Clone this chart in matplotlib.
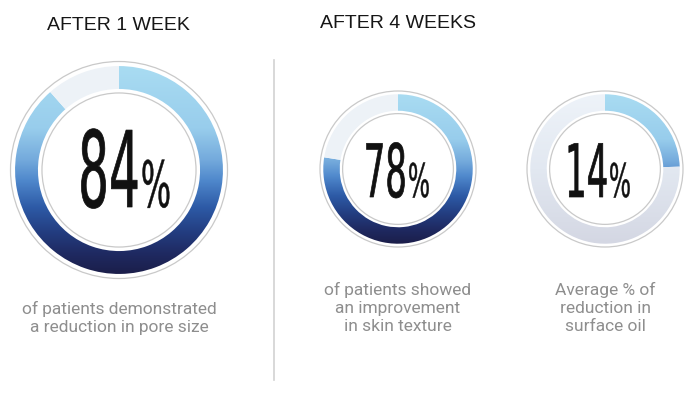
import matplotlib
matplotlib.use('Agg')
import matplotlib.pyplot as plt
import numpy as np
from matplotlib.patches import Wedge, Circle
from matplotlib.colors import LinearSegmentedColormap
from matplotlib.patheffects import AbstractPathEffect
from matplotlib.transforms import Affine2D

# chart content
headers = ['AFTER 1 WEEK', 'AFTER 4 WEEKS']
pct_labels = [84, 78, 14]
# share of each ring that is coloured, as drawn in the picture
arc_fill = [0.885, 0.775, 0.245]
captions = ['of patients demonstrated\na reduction in pore size',
            'of patients showed\nan improvement\nin skin texture',
            'Average % of\nreduction in\nsurface oil']

# layout, in pixels with y pointing down
W, H = 700, 397
centers = [(119, 170), (398, 169), (605, 169)]
radius = [108.5, 78, 78]
num_split = [141, 408, 609]       # x where the number ends and the % begins
num_base = [207, 197, 197]        # baseline of the big numbers
num_size = [76, 53, 53]
pct_size = [46, 33.5, 33.5]
caption_y = [318, 308, 308]
header_x = [47, 320]
header_y = [25, 23.5]

blue_cmap = LinearSegmentedColormap.from_list('ring_blue', [
    (0.0, '#a9dcf2'), (0.3, '#98cdec'), (0.45, '#74aadc'), (0.55, '#4f88cc'),
    (0.68, '#2d5aa6'), (0.8, '#233d80'), (0.9, '#1f2a62'), (1.0, '#1b1e4a')])
grey_cmap = LinearSegmentedColormap.from_list('ring_grey', [
    (0.0, '#eef3f9'), (0.5, '#e2e8f1'), (1.0, '#d4d7e3')])
REST = '#edf2f7'
LINE = '#c9c9c9'


class Squeeze(AbstractPathEffect):
    """draw text narrower (no condensed font here), thin outline to thicken it,
    dx shifts the glyphs sideways in pixels"""
    def __init__(self, sx, anchor='center', lw=0.0, dx=0.0):
        super().__init__()
        self.sx = sx
        self.anchor = anchor
        self.lw = lw
        self.dx = dx

    def draw_path(self, renderer, gc, tpath, affine, rgbFace=None):
        ext = tpath.get_extents()
        if self.anchor == 'left':
            x0 = ext.x0
        elif self.anchor == 'right':
            x0 = ext.x1
        else:
            x0 = (ext.x0 + ext.x1) / 2
        t = Affine2D().translate(-x0, 0).scale(self.sx, 1).translate(x0, 0)
        gc0 = renderer.new_gc()
        gc0.copy_properties(gc)
        if self.lw > 0 and rgbFace is not None:
            gc0.set_linewidth(self.lw)
            gc0.set_foreground(rgbFace)
        renderer.draw_path(gc0, tpath, t + affine + Affine2D().translate(self.dx, 0),
                           rgbFace)
        gc0.restore()


def gradient_arc(ax, cx, cy, r_out, r_in, t1, t2, cmap):
    grad = np.linspace(0, 1, 256).reshape(-1, 1)
    im = ax.imshow(grad, cmap=cmap, vmin=0, vmax=1, origin='upper',
                   extent=(cx - r_out, cx + r_out, cy + r_out, cy - r_out),
                   interpolation='bilinear', zorder=2)
    clip = Wedge((cx, cy), r_out, t1, t2, width=r_out - r_in,
                 transform=ax.transData)
    im.set_clip_path(clip)


def ring(ax, i):
    cx, cy = centers[i]
    R = radius[i]
    r_out, r_in = 0.958 * R, 0.747 * R
    t_end = -90 + 360 * arc_fill[i]
    gradient_arc(ax, cx, cy, r_out, r_in, -90, t_end, blue_cmap)
    if i == 2:
        gradient_arc(ax, cx, cy, r_out, r_in, t_end, 270, grey_cmap)
    else:
        ax.add_patch(Wedge((cx, cy), r_out, t_end, 270, width=r_out - r_in,
                           facecolor=REST, edgecolor='none', zorder=2))
    ax.add_patch(Circle((cx, cy), R, fill=False, edgecolor=LINE, lw=0.9, zorder=3))
    ax.add_patch(Circle((cx, cy), 0.71 * R, fill=False, edgecolor=LINE, lw=0.9, zorder=3))

    sx = 0.46
    k = num_size[i] / 76
    ax.text(num_split[i], num_base[i], str(pct_labels[i]), ha='right', va='baseline',
            fontsize=num_size[i], family='DejaVu Sans', color='#111111', zorder=4,
            path_effects=[Squeeze(sx, 'right', lw=0.5, dx=2 * k)])
    ax.text(num_split[i], num_base[i], '%', ha='left', va='baseline',
            fontsize=pct_size[i], family='DejaVu Sans', color='#111111', zorder=4,
            path_effects=[Squeeze(sx + 0.04, 'left', lw=0.3, dx=-2 * k)])
    ax.text(cx, caption_y[i], captions[i], ha='center', va='center',
            fontsize=12.5, family='Roboto', color='#8e8e8e',
            linespacing=1.28)


def main():
    fig = plt.figure(figsize=(W / 100, H / 100), dpi=100)
    ax = fig.add_axes([0, 0, 1, 1])
    for i in range(len(pct_labels)):
        ring(ax, i)
    for x, y, s in zip(header_x, header_y, headers):
        ax.text(x, y, s, ha='left', va='center', fontsize=14,
                family='Liberation Sans', color='#161616')
    ax.plot([274, 274], [60, 380], color='#d2d2d2', lw=1.2)
    ax.set_xlim(0, W)
    ax.set_ylim(H, 0)
    ax.set_aspect('equal')
    ax.axis('off')
    fig.savefig('out.png', dpi=100)


if __name__ == '__main__':
    main()
